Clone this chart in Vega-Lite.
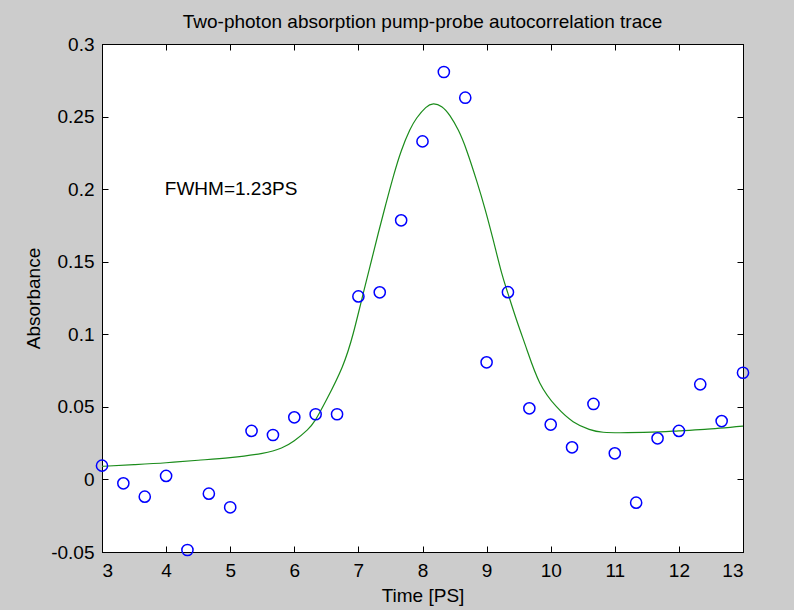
{
  "$schema": "https://vega.github.io/schema/vega-lite/v6.json",
  "width": 641,
  "height": 508,
  "autosize": {"type": "none"},
  "padding": {"left": 102, "top": 44, "right": 51, "bottom": 58},
  "background": "#cccccc",
  "config": {
    "view": {"fill": "white", "stroke": "black", "strokeWidth": 1},
    "font": "Liberation Sans",
    "axis": {"grid": false, "domainColor": "black", "tickColor": "black", "labelColor": "black", "titleColor": "black", "labelFont": "Liberation Sans", "titleFont": "Liberation Sans", "labelFontSize": 19, "titleFontSize": 19, "titleFontWeight": "normal", "tickSize": -6, "tickWidth": 1, "domainWidth": 1}
  },
  "title": {"text": "Two-photon absorption pump-probe autocorrelation trace", "font": "Liberation Sans", "fontSize": 19, "fontWeight": "normal", "color": "black", "frame": "group", "anchor": "middle", "baseline": "alphabetic", "offset": -12},
  "datasets": {
    "points": [
      {"time": 3.0, "absorbance": 0.0095},
      {"time": 3.333, "absorbance": -0.0027},
      {"time": 3.667, "absorbance": -0.0119},
      {"time": 4.0, "absorbance": 0.0024},
      {"time": 4.333, "absorbance": -0.0486},
      {"time": 4.667, "absorbance": -0.0098},
      {"time": 5.0, "absorbance": -0.0192},
      {"time": 5.333, "absorbance": 0.0334},
      {"time": 5.667, "absorbance": 0.0306},
      {"time": 6.0, "absorbance": 0.0428},
      {"time": 6.333, "absorbance": 0.0449},
      {"time": 6.667, "absorbance": 0.0449},
      {"time": 7.0, "absorbance": 0.1261},
      {"time": 7.333, "absorbance": 0.1289},
      {"time": 7.667, "absorbance": 0.1785},
      {"time": 8.0, "absorbance": 0.2329},
      {"time": 8.333, "absorbance": 0.2807},
      {"time": 8.667, "absorbance": 0.263},
      {"time": 9.0, "absorbance": 0.0807},
      {"time": 9.333, "absorbance": 0.129},
      {"time": 9.667, "absorbance": 0.049},
      {"time": 10.0, "absorbance": 0.0378},
      {"time": 10.333, "absorbance": 0.0221},
      {"time": 10.667, "absorbance": 0.052},
      {"time": 11.0, "absorbance": 0.018},
      {"time": 11.333, "absorbance": -0.016},
      {"time": 11.667, "absorbance": 0.0283},
      {"time": 12.0, "absorbance": 0.0334},
      {"time": 12.333, "absorbance": 0.0655},
      {"time": 12.667, "absorbance": 0.0402},
      {"time": 13.0, "absorbance": 0.0735}
    ],
    "fit": [
      {"time": 3.0, "absorbance": 0.009},
      {"time": 3.5, "absorbance": 0.0102},
      {"time": 4.0, "absorbance": 0.0115},
      {"time": 4.5, "absorbance": 0.0132},
      {"time": 5.0, "absorbance": 0.015},
      {"time": 5.5, "absorbance": 0.018},
      {"time": 5.8, "absorbance": 0.0217},
      {"time": 6.0, "absorbance": 0.0267},
      {"time": 6.2, "absorbance": 0.034},
      {"time": 6.33, "absorbance": 0.041},
      {"time": 6.5, "absorbance": 0.0547},
      {"time": 6.75, "absorbance": 0.0777},
      {"time": 6.92, "absorbance": 0.1007},
      {"time": 7.05, "absorbance": 0.1236},
      {"time": 7.18, "absorbance": 0.1466},
      {"time": 7.31, "absorbance": 0.1696},
      {"time": 7.43, "absorbance": 0.19},
      {"time": 7.55, "absorbance": 0.2095},
      {"time": 7.67, "absorbance": 0.2265},
      {"time": 7.8, "absorbance": 0.2405},
      {"time": 7.91, "absorbance": 0.249},
      {"time": 8.05, "absorbance": 0.2562},
      {"time": 8.17, "absorbance": 0.2587},
      {"time": 8.3, "absorbance": 0.2568},
      {"time": 8.43, "absorbance": 0.2505},
      {"time": 8.56, "absorbance": 0.2405},
      {"time": 8.69, "absorbance": 0.2265},
      {"time": 8.85, "absorbance": 0.205},
      {"time": 8.98, "absorbance": 0.1856},
      {"time": 9.1, "absorbance": 0.1655},
      {"time": 9.23, "absorbance": 0.143},
      {"time": 9.33, "absorbance": 0.1285},
      {"time": 9.47, "absorbance": 0.1095},
      {"time": 9.63, "absorbance": 0.0892},
      {"time": 9.83, "absorbance": 0.0665},
      {"time": 10.09, "absorbance": 0.0501},
      {"time": 10.35, "absorbance": 0.0398},
      {"time": 10.6, "absorbance": 0.0345},
      {"time": 10.82, "absorbance": 0.0325},
      {"time": 11.2, "absorbance": 0.0322},
      {"time": 11.7, "absorbance": 0.0328},
      {"time": 12.0, "absorbance": 0.0335},
      {"time": 12.4, "absorbance": 0.0345},
      {"time": 13.0, "absorbance": 0.0368}
    ],
    "note": [
      {"time": 3.98, "absorbance": 0.2, "label": "FWHM=1.23PS"}
    ]
  },
  "layer": [
    {
      "data": {"name": "fit"},
      "mark": {"type": "line", "color": "#1b8c1b", "strokeWidth": 1.2, "interpolate": "natural"},
      "encoding": {
        "x": {"field": "time", "type": "quantitative", "scale": {"domain": [3, 13], "nice": false, "zero": false},
          "axis": {"orient": "top", "labels": false, "title": null, "values": [3,4,5,6,7,8,9,10,11,12,13]}},
        "y": {"field": "absorbance", "type": "quantitative", "scale": {"domain": [-0.05, 0.3], "nice": false, "zero": false},
          "axis": {"orient": "right", "labels": false, "title": null, "values": [-0.05,0,0.05,0.1,0.15,0.2,0.25,0.3]}}
      }
    },
    {
      "data": {"name": "points"},
      "mark": {"type": "point", "shape": "circle", "filled": false, "color": "#0000ff", "size": 125, "strokeWidth": 1.5, "opacity": 1},
      "encoding": {
        "x": {"field": "time", "type": "quantitative", "scale": {"domain": [3, 13], "nice": false, "zero": false},
          "axis": {"orient": "bottom", "title": "Time [PS]", "values": [3,4,5,6,7,8,9,10,11,12,13], "labelPadding": 15, "titlePadding": 6}},
        "y": {"field": "absorbance", "type": "quantitative", "scale": {"domain": [-0.05, 0.3], "nice": false, "zero": false},
          "axis": {"orient": "left", "title": "Absorbance", "values": [-0.05,0,0.05,0.1,0.15,0.2,0.25,0.3], "labelPadding": 14, "titlePadding": 7, "labelExpr": "'' + round(datum.value*100)/100"}}
      }
    },
    {
      "data": {"name": "note"},
      "mark": {"type": "text", "align": "left", "baseline": "middle", "fontSize": 19, "font": "Liberation Sans", "color": "black"},
      "encoding": {
        "x": {"field": "time", "type": "quantitative", "axis": null},
        "y": {"field": "absorbance", "type": "quantitative", "axis": null},
        "text": {"field": "label"}
      }
    }
  ],
  "resolve": {"axis": {"x": "independent", "y": "independent"}}
}
